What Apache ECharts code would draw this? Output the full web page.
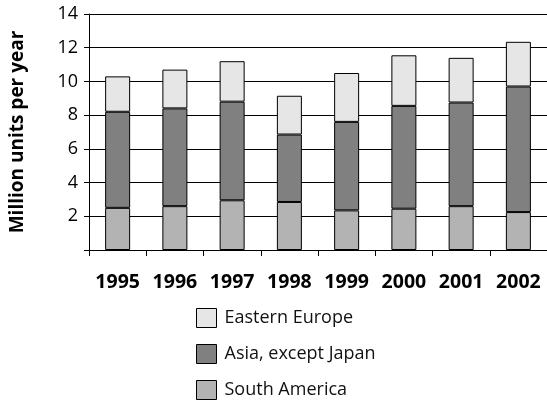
<!DOCTYPE html>
<html>
<head>
<meta charset="utf-8">
<script src="https://cdn.jsdelivr.net/npm/echarts@6/dist/echarts.min.js"></script>
<style>
  html, body { margin: 0; padding: 0; background: #fff; }
  #chart { width: 547px; height: 402px; }
</style>
</head>
<body>
<div id="chart"></div>
<script>
// Years on the category axis
const years = ['1995', '1996', '1997', '1998', '1999', '2000', '2001', '2002'];

// Million units per year, stacked from the bottom up
const southAmerica = [2.5, 2.6, 2.95, 2.85, 2.35, 2.45, 2.6, 2.25];
const asiaExceptJapan = [5.7, 5.8, 5.85, 4.0, 5.25, 6.1, 6.15, 7.45];
const easternEurope = [2.1, 2.3, 2.4, 2.3, 2.9, 3.0, 2.65, 2.65];

// Value axis ticks
const yTicks = [0, 2, 4, 6, 8, 10, 12, 14];

const FONT = '"Open Sans", "Noto Sans", sans-serif';

const chart = echarts.init(document.getElementById('chart'), null, { renderer: 'canvas' });

function barSeries(name, data, color) {
  return {
    name: name,
    type: 'bar',
    stack: 'total',
    data: data,
    barWidth: 25,
    itemStyle: { color: color, borderColor: '#000', borderWidth: 1 },
    emphasis: { disabled: true }
  };
}

chart.setOption({
  animation: false,
  textStyle: { fontFamily: FONT },
  grid: { left: 89, right: 0, top: 14, bottom: 152, containLabel: false },
  legend: {
    orient: 'vertical',
    left: 191,
    top: 303,
    height: 100,
    itemWidth: 20,
    itemHeight: 19,
    itemGap: 16,
    icon: 'rect',
    textStyle: { fontFamily: FONT, fontSize: 18, color: '#111', padding: [0, 0, 0, 3] },
    data: ['Eastern Europe', 'Asia, except Japan', 'South America'],
    itemStyle: { borderColor: '#000', borderWidth: 1 }
  },
  xAxis: {
    type: 'category',
    data: years,
    boundaryGap: true,
    axisLine: { lineStyle: { color: '#000', width: 1 } },
    axisTick: { show: true, length: 6, lineStyle: { color: '#000' } },
    axisLabel: {
      interval: 0, hideOverlap: false,
      fontFamily: FONT, fontWeight: 'bold', fontSize: 19.5, color: '#000', margin: 22
    }
  },
  yAxis: {
    type: 'value',
    min: yTicks[0],
    max: yTicks[yTicks.length - 1],
    interval: 2,
    name: 'Million units per year',
    nameLocation: 'middle',
    nameGap: 62,
    nameTextStyle: { fontFamily: FONT, fontWeight: 'bold', fontSize: 19, color: '#000' },
    axisLine: { show: true, lineStyle: { color: '#000', width: 1 } },
    axisTick: { show: true, length: 5, lineStyle: { color: '#000' } },
    axisLabel: {
      fontFamily: FONT, fontSize: 18, color: '#000', margin: 11,
      formatter: v => (v === 0 ? '' : String(v))
    },
    splitLine: { show: true, lineStyle: { color: '#000', width: 1 } }
  },
  series: [
    barSeries('South America', southAmerica, '#b3b3b3'),
    barSeries('Asia, except Japan', asiaExceptJapan, '#808080'),
    barSeries('Eastern Europe', easternEurope, '#e6e6e6')
  ]
});
</script>
</body>
</html>
